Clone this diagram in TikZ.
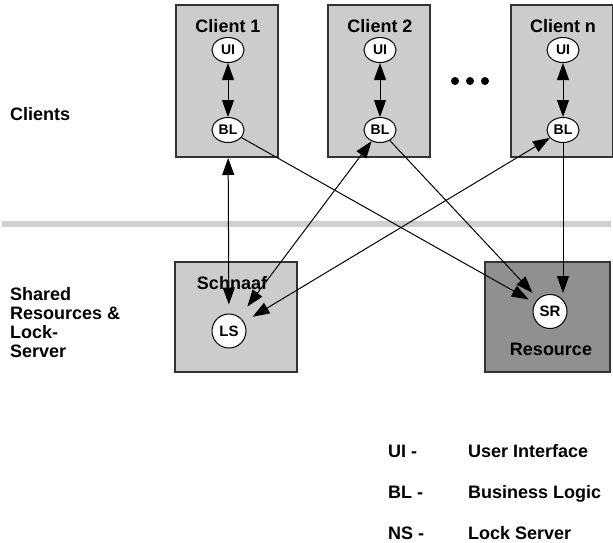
\documentclass[tikz,border=0pt]{standalone}
\usepackage{fontspec}
\setmainfont{Liberation Sans}
\usetikzlibrary{arrows.meta,shapes.geometric}

\begin{document}
\begin{tikzpicture}[x=1pt,y=-1pt,
        font=\bfseries\fontsize{18}{19}\selectfont,
        txt/.style={inner sep=0pt},
        box/.style={draw=black!80,line width=1.3pt,fill=gray!40},
        part/.style={ellipse,draw,line width=1pt,fill=white,inner sep=0pt,minimum width=32pt,minimum height=25pt,font=\bfseries\fontsize{14}{14}\selectfont},
        srv/.style={circle,draw,line width=1pt,fill=white,inner sep=0pt,minimum size=34pt,font=\bfseries\fontsize{15}{15}\selectfont},
        link/.style={line width=1pt,-{Triangle[length=17pt,width=12pt]}},
        both/.style={line width=1pt,{Triangle[length=17pt,width=12pt]}-{Triangle[length=17pt,width=12pt]}}]
        \useasboundingbox (0,0) rectangle (613,542);
        % clients
        \foreach \n/\x/\t in {1/227/Client 1,2/379/Client 2,n/562/Client n}{
            \draw[box] (\x-51,5) rectangle (\x+51,157);
            \node[txt,anchor=base] (c\n) at (\x+1,32) {\t};
            \node[part] (ui\n) at (\x+1,50) {UI};
            \node[part] (bl\n) at (\x+1,130) {BL};
            \draw[both] (ui\n) -- (bl\n);
        }
        \foreach \x in {455,470,485} \fill (\x,81) circle (4);
        \node[txt,anchor=base west] (clients) at (10,120) {Clients};
        % separator
        \draw[gray!38,line width=6pt] (2,224) -- (611,224);
        % shared resources
        \draw[box] (175,262) rectangle (297,372);
        \draw[box,fill=gray!87] (485,262) rectangle (610,372);
        \node[txt,anchor=base] (schnaaf) at (232,289) {Schnaaf};
        \node[txt,anchor=base] (res) at (551,355) {Resource};
        \node[srv] (ls) at (229,331) {LS};
        \node[srv] (sr) at (550,311.5) {SR};
        \node[txt,anchor=north west,align=left] (shared) at (10,287) {Shared\\Resources \&\\Lock-\\Server};
        % connections
        \draw[both,shorten <=15pt,shorten >=9pt] (bl1) -- (ls);
        \draw[both,shorten >=13pt] (bl2) -- (ls);
        \draw[both,shorten >=10pt] (bln) -- (ls);
        \draw[link,shorten >=7pt] (bl1) -- (sr);
        \draw[link,shorten >=8pt] (bl2) -- (sr);
        \draw[link,shorten >=1pt] (bln) -- (bln |- sr.north);
        % legend
        \node[txt,anchor=base west] (k1) at (388,457) {UI -};
        \node[txt,anchor=base west] (v1) at (468,457) {User Interface};
        \node[txt,anchor=base west] (k2) at (388,498) {BL -};
        \node[txt,anchor=base west] (v2) at (468,498) {Business Logic};
        \node[txt,anchor=base west] (k3) at (388,539) {NS -};
        \node[txt,anchor=base west] (v3) at (468,539) {Lock Server};
    \end{tikzpicture}
\end{document}
